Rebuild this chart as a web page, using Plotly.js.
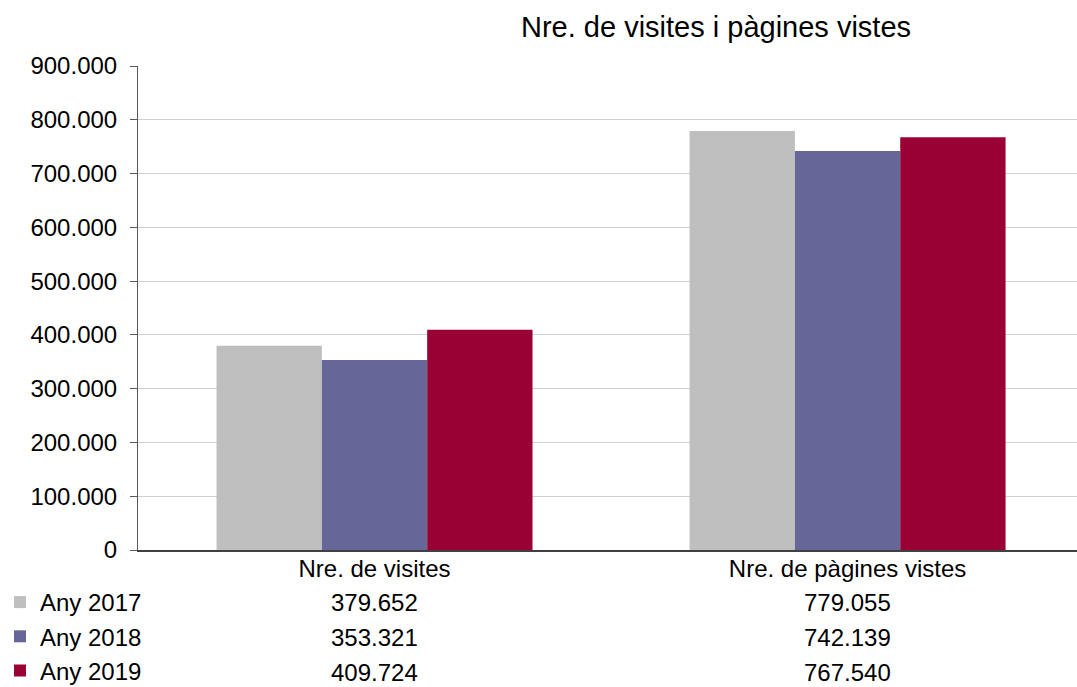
<!DOCTYPE html>
<html>
<head>
<meta charset="utf-8">
<script src="https://cdn.plot.ly/plotly-3.0.1.min.js"></script>
<style>html,body{margin:0;padding:0;background:#fff;}#chart{width:1077px;height:687px;}</style>
</head>
<body>
<div id="chart"></div>
<script>
const categories = ["Nre. de visites", "Nre. de pàgines vistes"];
const seriesNames = ["Any 2017", "Any 2018", "Any 2019"];
const values2017 = [379652, 779055];
const values2018 = [353321, 742139];
const values2019 = [409724, 767540];
const yTickValues = [0, 100000, 200000, 300000, 400000, 500000, 600000, 700000, 800000, 900000];
const chartTitle = "Nre. de visites i pàgines vistes";

const colors = ["#bfbfbf", "#666699", "#990033"];
const allValues = [values2017, values2018, values2019];
const FONT = "Liberation Sans, Arial, sans-serif";

function fmt(n) {
  return String(Math.round(n)).replace(/\B(?=(\d{3})+(?!\d))/g, ".");
}

const traces = allValues.map((vals, i) => ({
  type: "bar",
  name: seriesNames[i],
  x: [0, 1],
  y: vals,
  marker: {color: colors[i]},
  legendgroup: "g" + i,
  hoverinfo: "skip"
}));

const rowY = [-0.1095, -0.1818, -0.254];
const annotations = [];
allValues.forEach((vals, i) => {
  vals.forEach((v, j) => {
    annotations.push({
      xref: "x", yref: "paper", x: j, y: rowY[i],
      text: fmt(v), showarrow: false,
      xanchor: "center", yanchor: "middle",
      font: {family: FONT, size: 24, color: "#000"}
    });
  });
});

const layout = {
  width: 1077, height: 687,
  margin: {l: 138, r: 0, t: 66, b: 137, autoexpand: false},
  paper_bgcolor: "#fff", plot_bgcolor: "#fff",
  separators: ",.",
  font: {family: FONT, color: "#000"},
  title: {
    text: chartTitle,
    xref: "container", yref: "container",
    x: 716 / 1077, y: 1 - 27 / 687,
    xanchor: "center", yanchor: "middle",
    font: {family: FONT, size: 29, color: "#000"}
  },
  barmode: "group",
  bargap: 0.332,
  bargroupgap: 0,
  xaxis: {
    range: [-0.5, 1.485],
    tickvals: [0, 1],
    ticktext: categories,
    ticks: "",
    ticklabelstandoff: -4,
    automargin: false,
    showline: true, linecolor: "#404040", linewidth: 2,
    showgrid: false, zeroline: false,
    tickfont: {family: FONT, size: 24, color: "#000"},
    fixedrange: true
  },
  yaxis: {
    range: [0, 900000],
    tickvals: yTickValues,
    tickformat: ",d",
    ticks: "outside", ticklen: 7, tickcolor: "#595959",
    ticklabelstandoff: 8,
    automargin: false,
    showline: true, linecolor: "#595959", linewidth: 1,
    showgrid: true, gridcolor: "#d0d0d0", gridwidth: 1,
    zeroline: false,
    tickfont: {family: FONT, size: 24, color: "#000"},
    fixedrange: true
  },
  showlegend: true,
  legend: {
    xref: "container", yref: "container",
    x: 0, xanchor: "left",
    y: 1 - 580 / 687, yanchor: "top",
    orientation: "v",
    traceorder: "normal",
    tracegroupgap: 7,
    font: {family: FONT, size: 24, color: "#000"},
    bgcolor: "rgba(0,0,0,0)",
    itemwidth: 30
  },
  annotations: annotations
};

Plotly.newPlot("chart", traces, layout, {displayModeBar: false, staticPlot: true});
</script>
</body>
</html>
